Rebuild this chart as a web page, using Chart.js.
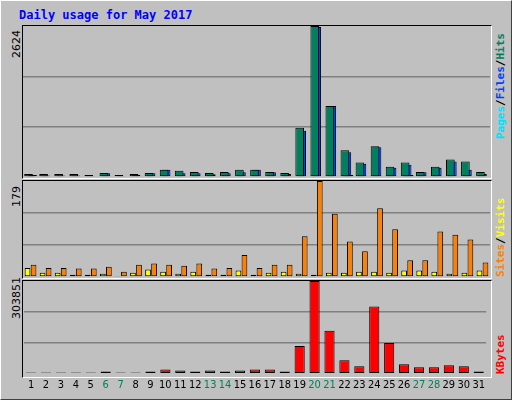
<!DOCTYPE html>
<html><head><meta charset="utf-8">
<script src="https://cdn.jsdelivr.net/npm/chart.js@4"></script>
<style>
body{margin:0;background:#c0c0c0;}
#wrap{position:relative;width:510px;height:398px;background:#c0c0c0;border-top:1px solid #fff;border-left:1px solid #fff;border-right:1px solid #404040;border-bottom:1px solid #404040;overflow:hidden;font-family:"DejaVu Sans Mono",monospace;}
.panel{position:absolute;border-top:1px solid #000;border-left:1px solid #000;border-right:1px solid #fff;border-bottom:1px solid #fff;}
.c{position:absolute;}
.rot{position:absolute;transform-origin:0 0;transform:rotate(-90deg);white-space:nowrap;font-size:11px;}
</style></head><body>
<div id="wrap">
<div style="position:absolute;left:18px;top:7px;font:bold 12px 'DejaVu Sans Mono';color:#0000ff">Daily usage for May 2017</div>
<div class="panel" style="left:21px;top:24px;width:468px;height:152px"></div>
<div class="panel" style="left:21px;top:179px;width:468px;height:97px"></div>
<div class="panel" style="left:21px;top:279px;width:468px;height:96px"></div>
<div class="c" style="left:22px;top:25px;width:467px;height:151px"><canvas id="c1"></canvas></div>
<div class="c" style="left:22px;top:180px;width:467px;height:96px"><canvas id="c2"></canvas></div>
<div class="c" style="left:22px;top:280px;width:467px;height:116px"><canvas id="c3"></canvas></div>
<div class="rot" style="left:9px;top:57px;font-family:'DejaVu Sans';">2624</div>
<div class="rot" style="left:9px;top:206px;font-family:'DejaVu Sans';">179</div>
<div class="rot" style="left:9px;top:318px;font-family:'DejaVu Sans';">303851</div>
<div class="rot" style="left:493px;top:138px;font-weight:bold"><span style="color:#00e0ff">Pages</span><span style="color:#000">/</span><span style="color:#0040ff">Files</span><span style="color:#000">/</span><span style="color:#00805c">Hits</span></div>
<div class="rot" style="left:493px;top:276px;font-weight:bold"><span style="color:#ff8000">Sites</span><span style="color:#000">/</span><span style="color:#ffff00">Visits</span></div>
<div class="rot" style="left:493px;top:373px;color:#ff0000;font-weight:bold">KBytes</div>
</div>
<script>
const days=["1","2","3","4","5","6","7","8","9","10","11","12","13","14","15","16","17","18","19","20","21","22","23","24","25","26","27","28","29","30","31"];
const weekend=["6","7","13","14","20","21","27","28"];
const hits=[54,54,54,54,36,71,36,54,71,125,107,89,71,89,125,125,89,71,857,2624,1232,464,250,536,179,250,89,179,304,268,89];
const files=[24,24,24,24,18,65,18,36,65,125,65,65,48,65,83,125,83,54,803,2606,1232,428,232,518,161,214,83,161,268,125,54];
const pages=[36,12,12,12,12,12,12,12,12,12,12,12,12,12,12,12,12,12,12,12,12,36,12,12,12,36,12,12,12,12,12];
const sites=[17,8,8,4,4,6,2,8,14,10,6,10,4,4,12,4,8,10,6,4,8,8,10,10,8,12,12,10,6,8,12];
const visits=[23,17,17,16,16,19,10,23,25,23,21,25,16,17,41,17,23,23,76,179,118,66,48,128,89,31,31,85,79,70,27];
const kbytes=[4400,4400,4400,4400,4400,7800,4400,4400,7800,14400,11100,7800,11100,7800,11100,14400,14400,7800,90900,303851,140900,44400,24400,220700,100900,31000,21100,21100,27700,24400,7800];
const maxHits=2624,maxVisits=179,maxK=303851;
function ds(data,color){return {data,backgroundColor:color,borderColor:'#000',borderWidth:1,borderSkipped:false};}
function mk(id,sets,max,showX,cat,bar){
 new Chart(document.getElementById(id),{type:'bar',data:{labels:days,datasets:sets},
 options:{responsive:true,maintainAspectRatio:false,animation:false,
  plugins:{legend:{display:false},tooltip:{enabled:false}},
  layout:{padding:0},
  datasets:{bar:{categoryPercentage:cat,barPercentage:bar}},
  scales:{
   x:{display:showX,grid:{display:false,drawTicks:false},border:{display:false},
      ticks:{padding:5,maxRotation:0,autoSkip:false,font:{family:"'DejaVu Sans Condensed','DejaVu Sans'",size:11},
      color:c=>weekend.includes(days[c.index])?'#00805c':'#000'}},
   y:{min:0,max:max,afterBuildTicks:a=>{a.ticks=[0,max/3,2*max/3,max].map(v=>({value:v}));},
      display:true,ticks:{display:false},border:{display:false},
      grid:{color:c=>(c.tick.value>0&&c.tick.value<max)?'#808080':'rgba(0,0,0,0)',lineWidth:1.5,drawTicks:false}}
  }}});
}
mk('c1',[ds(hits,'#00805c'),ds(files,'#0040ff'),ds(pages,'#00e0ff')],maxHits,false,0.4,4.3);
mk('c2',[ds(sites,'#ffff00'),ds(visits,'#ff8000')],maxVisits,false,0.8,0.95);
mk('c3',[ds(kbytes,'#ff0000')],maxK,true,0.68,1);
</script>
</body></html>
